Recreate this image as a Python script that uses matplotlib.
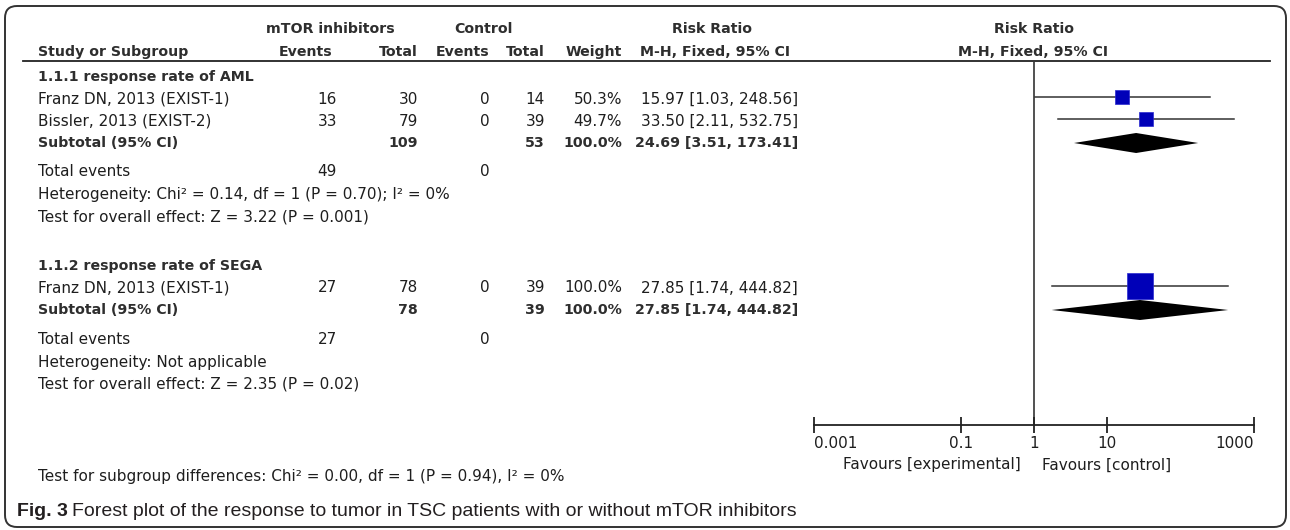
import matplotlib
matplotlib.use("Agg")
import matplotlib.pyplot as plt
from matplotlib.patches import FancyBboxPatch
from matplotlib.ticker import NullLocator

# datos del forest plot
aml_estudios = ["Franz DN, 2013 (EXIST-1)", "Bissler, 2013 (EXIST-2)"]
aml_ev_exp = [16, 33]
aml_tot_exp = [30, 79]
aml_ev_ctl = [0, 0]
aml_tot_ctl = [14, 39]
aml_peso = [50.3, 49.7]
aml_rr = [15.97, 33.50]
aml_lo = [1.03, 2.11]
aml_hi = [248.56, 532.75]
aml_sub = [24.69, 3.51, 173.41]
aml_het = "Heterogeneity: Chi² = 0.14, df = 1 (P = 0.70); I² = 0%"
aml_test = "Test for overall effect: Z = 3.22 (P = 0.001)"

sega_estudios = ["Franz DN, 2013 (EXIST-1)"]
sega_ev_exp = [27]
sega_tot_exp = [78]
sega_ev_ctl = [0]
sega_tot_ctl = [39]
sega_peso = [100.0]
sega_rr = [27.85]
sega_lo = [1.74]
sega_hi = [444.82]
sega_sub = [27.85, 1.74, 444.82]
sega_het = "Heterogeneity: Not applicable"
sega_test = "Test for overall effect: Z = 2.35 (P = 0.02)"

ticks = [0.001, 0.1, 1, 10, 1000]
tick_labels = ["0.001", "0.1", "1", "10", "1000"]

FUENTE = ["DejaVu Sans"]
TXT = "#1e1e1e"
TXT_B = "#2e2e2e"
FS = 11
FSB = 10.2  # negritas un poco mas chicas, DejaVu Bold es muy ancha

fig = plt.figure(figsize=(12.9, 5.3), dpi=100)
ax = fig.add_axes([0, 0, 1, 1])
ax.set_xlim(0, 1290)
ax.set_ylim(530, 0)
ax.axis("off")

# panel del forest plot (eje log), en y usa las mismas coordenadas en pixeles
y_top, y_eje = 62, 425
x0, x1 = 814, 1254
fax = fig.add_axes([x0 / 1290, (530 - y_eje) / 530, (x1 - x0) / 1290, (y_eje - y_top) / 530])
fax.set_xscale("log")
fax.set_xlim(1e-3, 1e3)
fax.set_ylim(y_eje, y_top)
fax.patch.set_alpha(0)
for s in ["left", "right", "top"]:
    fax.spines[s].set_visible(False)
fax.spines["bottom"].set_linewidth(1.3)
fax.spines["bottom"].set_color("#222")
fax.set_yticks([])
fax.set_xticks(ticks)
fax.set_xticklabels(tick_labels, fontsize=FS, family=FUENTE, color=TXT)
fax.xaxis.set_minor_locator(NullLocator())
fax.tick_params(axis="x", direction="inout", length=12, width=1.3, pad=2, color="#222")
labs = fax.get_xticklabels()
labs[0].set_ha("left")
labs[-1].set_ha("right")
fax.axvline(1, color="#222", lw=1.1)


def texto(x, y, s, ha="left", bold=False, **kw):
    ax.text(x, y, s, ha=ha, va="center", fontsize=FSB if bold else FS, family=FUENTE,
            color=TXT_B if bold else TXT, fontweight="bold" if bold else "normal", **kw)


# encabezados
texto(330, 29, "mTOR inhibitors", ha="center", bold=True)
texto(483, 29, "Control", ha="center", bold=True)
texto(712, 29, "Risk Ratio", ha="center", bold=True)
texto(1034, 29, "Risk Ratio", ha="center", bold=True)
texto(38, 52, "Study or Subgroup", bold=True)
texto(306, 52, "Events", ha="center", bold=True)
texto(418, 52, "Total", ha="right", bold=True)
texto(489, 52, "Events", ha="right", bold=True)
texto(545, 52, "Total", ha="right", bold=True)
texto(622, 52, "Weight", ha="right", bold=True)
texto(715, 52, "M-H, Fixed, 95% CI", ha="center", bold=True)
texto(1033, 52, "M-H, Fixed, 95% CI", ha="center", bold=True)
ax.plot([23, 1270], [61, 61], color="#222", lw=1.3)


def subgrupo(y0, nombre, estudios, ev_e, tot_e, ev_c, tot_c, peso, rr, lo, hi, sub, het, test):
    texto(38, y0, nombre, bold=True)
    y = y0
    for i in range(len(estudios)):
        y += 22
        texto(38, y, estudios[i])
        texto(337, y, str(ev_e[i]), ha="right")
        texto(418, y, str(tot_e[i]), ha="right")
        texto(490, y, str(ev_c[i]), ha="right")
        texto(545, y, str(tot_c[i]), ha="right")
        texto(622, y, f"{peso[i]:.1f}%", ha="right")
        texto(798, y, f"{rr[i]:.2f} [{lo[i]:.2f}, {hi[i]:.2f}]", ha="right")
        fax.plot([lo[i], hi[i]], [y - 2, y - 2], color="#333", lw=1.1)
        lado = 2 + 24 * peso[i] / 100  # lado del cuadrado en px
        fax.scatter([rr[i]], [y - 2], marker="s", s=(lado * 0.72) ** 2,
                    color="#0000b8", edgecolors="#2a2ad0", linewidths=0.5, zorder=3)
    y += 22
    texto(38, y, "Subtotal (95% CI)", bold=True)
    texto(418, y, str(sum(tot_e)), ha="right", bold=True)
    texto(545, y, str(sum(tot_c)), ha="right", bold=True)
    texto(622, y, f"{sum(peso):.1f}%", ha="right", bold=True)
    texto(798, y, f"{sub[0]:.2f} [{sub[1]:.2f}, {sub[2]:.2f}]", ha="right", bold=True)
    fax.fill([sub[1], sub[0], sub[2], sub[0]], [y, y - 10, y, y + 10],
             color="black", lw=0, zorder=2)
    y += 29
    texto(38, y, "Total events")
    texto(337, y, str(sum(ev_e)), ha="right")
    texto(490, y, str(sum(ev_c)), ha="right")
    y += 23
    texto(38, y, het)
    y += 22
    texto(38, y, test)


subgrupo(77, "1.1.1 response rate of AML", aml_estudios, aml_ev_exp, aml_tot_exp,
         aml_ev_ctl, aml_tot_ctl, aml_peso, aml_rr, aml_lo, aml_hi, aml_sub, aml_het, aml_test)
subgrupo(266, "1.1.2 response rate of SEGA", sega_estudios, sega_ev_exp, sega_tot_exp,
         sega_ev_ctl, sega_tot_ctl, sega_peso, sega_rr, sega_lo, sega_hi, sega_sub, sega_het, sega_test)

texto(1021, 465, "Favours [experimental]", ha="right")
texto(1042, 465, "Favours [control]", ha="left")
texto(38, 477, "Test for subgroup differences: Chi² = 0.00, df = 1 (P = 0.94), I² = 0%")

# pie de figura
ax.text(17, 511, "Fig. 3", ha="left", va="center", fontsize=14, fontweight="bold",
        family=["Liberation Sans"], color="#231f20")
ax.text(72, 511, "Forest plot of the response to tumor in TSC patients with or without mTOR inhibitors",
        ha="left", va="center", fontsize=14, family=["Liberation Sans"], color="#231f20")

# marco redondeado
marco = FancyBboxPatch((5, 6), 1281, 521, boxstyle="round,pad=0,rounding_size=12",
                       fill=False, ec="#333", lw=1.4)
ax.add_patch(marco)

fig.savefig("out.png", dpi=100)
